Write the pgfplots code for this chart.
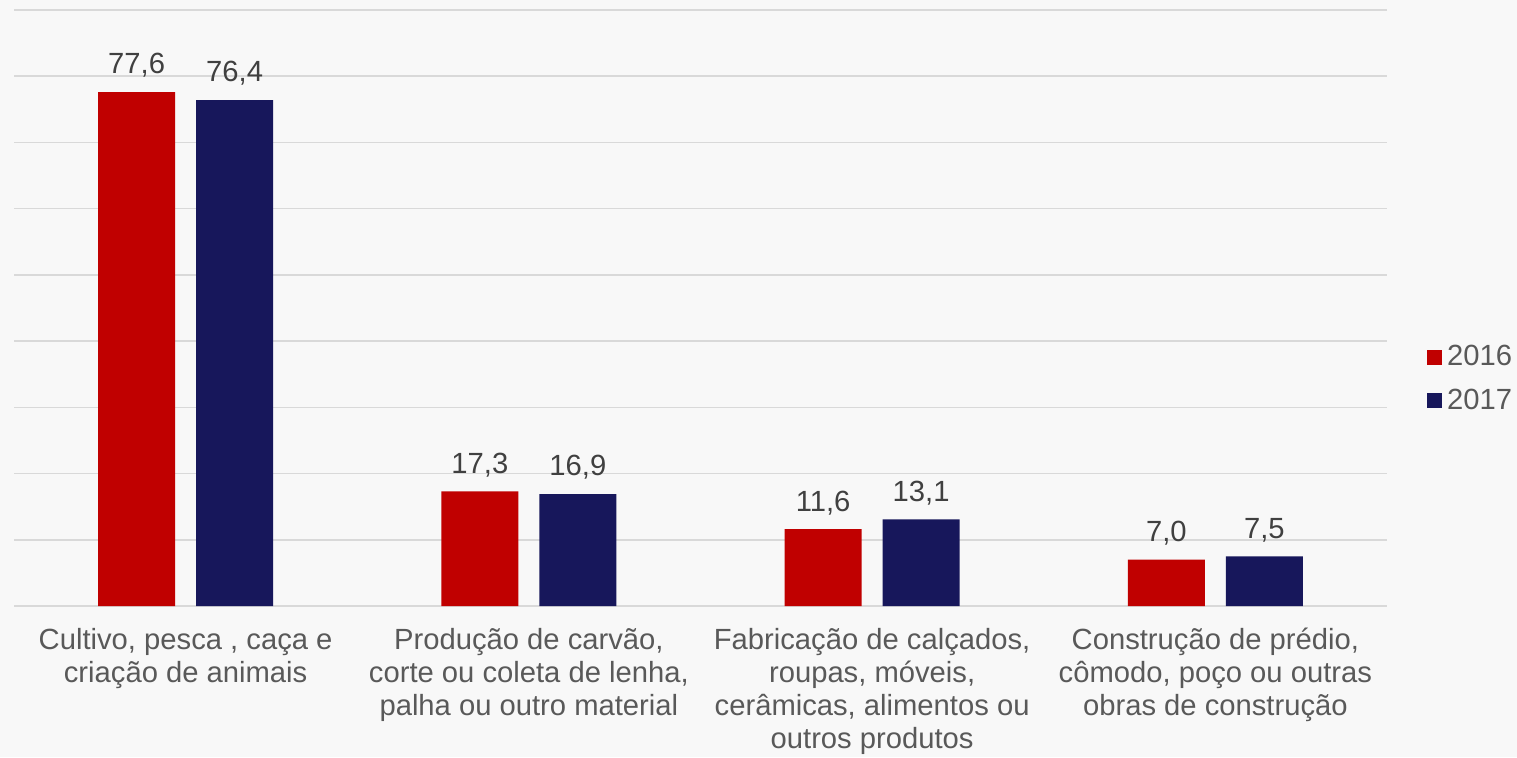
\documentclass[border=0pt]{standalone}
\usepackage{pgfplots}
\pgfplotsset{compat=1.18}
\usepackage{fontspec}
\setmainfont{Liberation Sans}
\definecolor{bg}{HTML}{F8F8F8}
\definecolor{cred}{HTML}{C00000}
\definecolor{cnavy}{RGB}{23,23,91}
\definecolor{gridc}{HTML}{D9D9D9}
\definecolor{txt}{HTML}{595959}
\definecolor{lbl}{HTML}{404040}
\begin{document}
\begin{tikzpicture}
\fill[bg] (0,0) rectangle (758.5pt,378.5pt);
\useasboundingbox (0,0) rectangle (758.5pt,378.5pt);
\begin{axis}[
  at={(7pt,75.5pt)}, anchor=south west,
  scale only axis, width=686.5pt, height=298pt,
  ybar=10.5pt, bar width=38.5pt,
  xmin=-0.5, xmax=3.5, ymin=0, ymax=90,
  ytick={0,10,...,90}, yticklabels={},
  xtick={0,1,2,3},
  xticklabels={{Cultivo, pesca , caça e\\criação de animais},
               {Produção de carvão,\\corte ou coleta de lenha,\\palha ou outro material},
               {Fabricação de calçados,\\roupas, móveis,\\cerâmicas, alimentos ou\\outros produtos},
               {Construção de prédio,\\cômodo, poço ou outras\\obras de construção}},
  major tick length=0pt,
  axis line style={draw=none},
  ymajorgrids, major grid style={draw=gridc, line width=0.75pt},
  xticklabel style={font=\fontsize{14.6}{16.5}\selectfont, text=txt, align=center, anchor=north, inner sep=0pt, yshift=-11pt},
  /pgf/number format/use comma,
  /pgf/number format/fixed,
  /pgf/number format/fixed zerofill,
  /pgf/number format/precision=1,
  /pgf/number format/assume math mode=true,
  nodes near coords,
  nodes near coords style={font=\fontsize{14.6}{16.5}\selectfont, text=lbl, inner sep=0pt, anchor=south, yshift=7pt},
  legend style={at={(1.029,0.381)}, anchor=west, draw=none, fill=none, font=\fontsize{14.6}{16.5}\selectfont, text=txt, row sep=7pt, inner sep=0pt,
    nodes={inner sep=1.5pt}, /tikz/every odd column/.append style={column sep=1pt}},
  legend cell align=left,
  legend image code/.code={\fill[#1] (0pt,-3.75pt) rectangle (7.5pt,3.75pt);},
]
\addplot[fill=cred, draw=none] coordinates {(0,77.6) (1,17.3) (2,11.6) (3,7.0)};
\addplot[fill=cnavy, draw=none] coordinates {(0,76.4) (1,16.9) (2,13.1) (3,7.5)};
\legend{2016,2017}
\end{axis}
\end{tikzpicture}
\end{document}
